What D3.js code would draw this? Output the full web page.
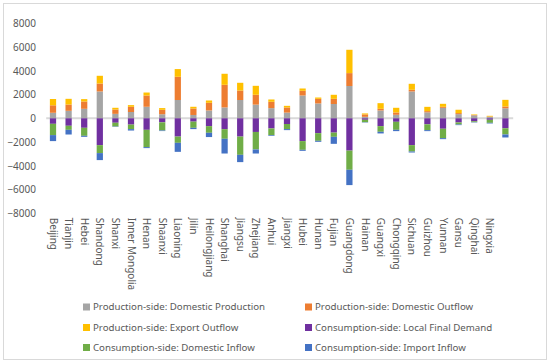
<!DOCTYPE html>
<html>
<head>
<meta charset="utf-8">
<script src="https://cdn.jsdelivr.net/npm/d3@7"></script>
<style>
body { margin: 0; background: #fff; }
svg { display: block; font-family: "Noto Sans", sans-serif; }
</style>
</head>
<body>
<svg id="chart" width="550" height="364"></svg>
<script>
var provinces = ["Beijing", "Tianjin", "Hebei", "Shandong", "Shanxi", "Inner Mongolia", "Henan", "Shaanxi",
	"Liaoning", "Jilin", "Heilongjiang", "Shanghai", "Jiangsu", "Zhejiang", "Anhui", "Jiangxi", "Hubei",
	"Hunan", "Fujian", "Guangdong", "Hainan", "Guangxi", "Chongqing", "Sichuan", "Guizhou", "Yunnan",
	"Gansu", "Qinghai", "Ningxia", ""];

// production side (positive)
var domesticProduction = [465, 630, 800, 2260, 375, 530, 970, 340, 1540, 280, 660, 915, 1540, 1150, 855,
	480, 1920, 1250, 1205, 2720, 125, 660, 295, 2260, 505, 880, 350, 250, 125, 840];
var domesticOutflow = [630, 530, 615, 670, 365, 440, 950, 375, 1955, 545, 645, 1905, 800, 830, 535,
	430, 395, 390, 435, 1085, 200, 140, 195, 140, 100, 90, 90, 30, 30, 155];
var exportOutflow = [530, 480, 200, 650, 145, 140, 250, 145, 650, 145, 195, 930, 650, 755, 195,
	140, 195, 110, 340, 1965, 85, 475, 395, 505, 360, 250, 280, 45, 55, 560];

// consumption side (negative)
var localFinalDemand = [-465, -630, -800, -2260, -375, -530, -970, -340, -1540, -280, -660, -915, -1540, -1150, -855,
	-480, -1920, -1250, -1205, -2720, -125, -660, -295, -2260, -505, -880, -350, -250, -125, -840];
var domesticInflow = [-950, -340, -675, -670, -315, -380, -1455, -685, -525, -520, -560, -810, -1535, -1475, -560,
	-430, -735, -645, -355, -1615, -200, -475, -675, -535, -490, -790, -170, -75, -255, -520];
var importInflow = [-505, -395, -85, -590, -30, -120, -85, -50, -760, -110, -360, -1240, -615, -340, -60,
	-85, -85, -85, -590, -1290, -30, -140, -110, -85, -85, -85, -55, -30, -55, -255];

var yTicks = [-8000, -6000, -4000, -2000, 0, 2000, 4000, 6000, 8000];

var seriesNames = ["Production-side: Domestic Production", "Production-side: Domestic Outflow",
	"Production-side: Export Outflow", "Consumption-side: Local Final Demand",
	"Consumption-side: Domestic Inflow", "Consumption-side: Import Inflow"];
var seriesValues = [domesticProduction, domesticOutflow, exportOutflow, localFinalDemand, domesticInflow, importInflow];
var colors = ["#a5a5a5", "#ed7d31", "#ffc000", "#7030a0", "#70ad47", "#4472c4"];

var table = provinces.map(function(p, i) {
	var row = { province: p, idx: i };
	seriesNames.forEach(function(s, j) { row[s] = seriesValues[j][i]; });
	return row;
});

var svg = d3.select("#chart");

svg.append("rect")
	.attr("x", 3.5).attr("y", 3.5)
	.attr("width", 543).attr("height", 356)
	.attr("fill", "#fff")
	.attr("stroke", "#d9d9d9");

var margin = {left: 45.2, right: 513.2, top: 23.3, bottom: 213.3};

var x = d3.scaleBand()
	.domain(d3.range(provinces.length))
	.range([margin.left, margin.right])
	.paddingInner(0.6)
	.paddingOuter(0.3);

var y = d3.scaleLinear()
	.domain([-8000, 8000])
	.range([margin.bottom, margin.top]);

// y axis labels
var yAxis = d3.axisLeft(y).tickValues(yTicks).tickSize(0).tickPadding(0);
var gy = svg.append("g")
	.attr("transform", "translate(36,0)")
	.call(yAxis);
gy.select(".domain").remove();
gy.selectAll("text")
	.attr("fill", "#595959")
	.style("font-size", "10px")
	.style("font-family", "Noto Sans")
	.text(function(d) { return d < 0 ? "\u2212" + Math.abs(d) : d; });

// zero line
svg.append("line")
	.attr("x1", margin.left + 1).attr("x2", margin.right)
	.attr("y1", y(0)).attr("y2", y(0))
	.attr("stroke", "#d9d9d9")
	.attr("stroke-width", 2);

var stack = d3.stack()
	.keys(seriesNames)
	.offset(d3.stackOffsetDiverging);
var stacked = stack(table);

svg.append("g")
	.selectAll("g")
	.data(stacked)
	.join("g")
	.attr("fill", function(d, i) { return colors[i]; })
	.selectAll("rect")
	.data(function(d) { return d; })
	.join("rect")
	.attr("x", function(d) { return x(d.data.idx); })
	.attr("width", x.bandwidth())
	.attr("y", function(d) { return y(Math.max(d[0], d[1])); })
	.attr("height", function(d) { return Math.abs(y(d[0]) - y(d[1])); });

// category labels
var xAxis = d3.axisBottom(x).tickSize(0).tickFormat(function(i) { return provinces[i]; });
var gx = svg.append("g")
	.attr("transform", "translate(0," + (margin.bottom + 4.5) + ")")
	.call(xAxis);
gx.select(".domain").remove();
gx.selectAll("text")
	.attr("fill", "#595959")
	.style("font-size", "10px")
	.style("font-family", "Noto Sans")
	.attr("transform", "rotate(90)")
	.attr("x", 0)
	.attr("y", 0)
	.attr("dy", "0.35em")
	.attr("text-anchor", "start");

// legend
var legendCols = [83, 305];
var legendRows = [307, 327.5, 347.5];
var legend = svg.append("g")
	.selectAll("g")
	.data(seriesNames)
	.join("g")
	.attr("transform", function(d, i) {
		return "translate(" + legendCols[i % 2] + "," + legendRows[Math.floor(i / 2)] + ")";
	});
legend.append("rect")
	.attr("x", 0).attr("y", -3.5)
	.attr("width", 7).attr("height", 7)
	.attr("fill", function(d, i) { return colors[i]; });
legend.append("text")
	.attr("x", 10)
	.attr("dy", "0.35em")
	.attr("fill", "#595959")
	.style("font-size", "9.7px")
	.text(function(d) { return d; });
</script>
</body>
</html>
